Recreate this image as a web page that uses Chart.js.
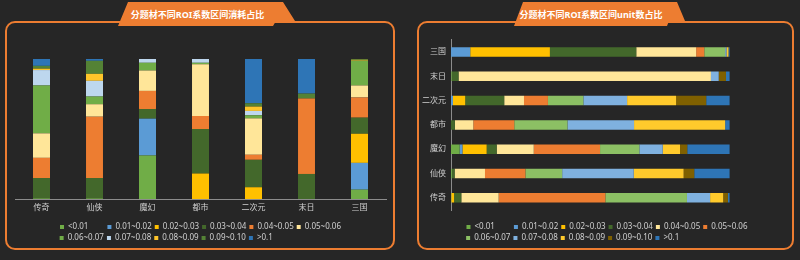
<!DOCTYPE html>
<html>
<head>
<meta charset="utf-8">
<script src="https://cdn.jsdelivr.net/npm/chart.js@4.4.0/dist/chart.umd.min.js"></script>
<style>
body { margin: 0; width: 800px; height: 260px; background: #262626; position: relative; overflow: hidden;
       font-family: 'Noto Sans', 'Noto Sans CJK SC', sans-serif; }
.frame { position: absolute; box-sizing: border-box; border: 2px solid #ed7d31; border-radius: 10px; }
.tab { position: absolute; background: #ed7d31; }
.title { position: absolute; top: 8px; height: 13px; line-height: 13px; text-align: center; color: #fff;
         font-size: 9px; font-weight: bold; }
canvas { position: absolute; }
</style>
</head>
<body>
<div class="frame" style="left:5px;top:21px;width:390px;height:229px"></div>
<div class="frame" style="left:417px;top:21px;width:377px;height:229px"></div>
<div class="tab" style="left:117px;top:2px;width:180px;height:25px;clip-path:polygon(11px 0,166px 0,178px 19px,159px 19px,156px 24px,1px 24px)"></div>
<div class="tab" style="left:513px;top:2px;width:174px;height:25px;clip-path:polygon(10px 0,164px 0,172px 19px,156px 19px,154px 24px,1px 24px)"></div>
<div class="title" style="left:0;width:395px">分题材不同ROI系数区间消耗占比</div>
<div class="title" style="left:400px;width:382px">分题材不同ROI系数区间unit数占比</div>
<canvas id="spendChart" width="400" height="222" style="left:0;top:30px"></canvas>
<canvas id="unitChart" width="380" height="222" style="left:418px;top:30px"></canvas>
<script>
// ROI ranges (legend), same for both charts
const roiRanges = ['<0.01', '0.01~0.02', '0.02~0.03', '0.03~0.04', '0.04~0.05', '0.05~0.06',
                   '0.06~0.07', '0.07~0.08', '0.08~0.09', '0.09~0.10', '>0.1'];

// left chart: spend share (%) per genre, one value per ROI range
const spendGenres = ['传奇', '仙侠', '魔幻', '都市', '二次元', '末日', '三国'];
const spendChuanqi = [0.5, 0, 0, 14.5, 14.4, 17.5, 34.2, 11.0, 1.0, 2.0, 4.9];
const spendXianxia = [0.5, 0, 0, 14.5, 43.8, 8.9, 5.5, 11.2, 5.0, 9.3, 1.3];
const spendMohuan = [31.1, 26.3, 0, 6.9, 12.9, 14.6, 5.5, 2.7, 0, 0, 0];
const spendDushi = [0, 0, 18.2, 31.8, 9.3, 37.0, 1.0, 2.7, 0, 0, 0];
const spendErciyuan = [0, 0, 8.4, 19.6, 3.6, 26.0, 2.2, 3.1, 3.1, 2.4, 31.6];
const spendMori = [0, 0, 0, 17.9, 53.8, 0, 0, 0, 0, 3.6, 24.7];
const spendSanguo = [6.7, 19.1, 20.8, 11.5, 14.4, 8.6, 17.7, 0, 0.6, 0.6, 0];
const spendColors = ['#70ad47', '#5b9bd5', '#ffc000', '#43682b', '#ed7d31', '#ffe699',
                     '#70ad47', '#bdd7ee', '#ffc52a', '#548235', '#2e75b6'];

// right chart: unit share (%) per genre, top to bottom
const unitGenres = ['三国', '末日', '二次元', '都市', '魔幻', '仙侠', '传奇'];
const unitSanguo = [0, 6.9, 28.6, 31.0, 21.5, 2.9, 7.5, 0.5, 0.7, 0, 0.4];
const unitMori = [0.2, 0, 0, 2.5, 90.6, 0, 0, 2.8, 0, 2.6, 1.3];
const unitErciyuan = [0, 0.7, 4.4, 14.0, 7.1, 8.6, 12.7, 15.7, 17.6, 10.8, 8.4];
const unitDushi = [0, 0, 0, 1.4, 6.6, 14.7, 19.1, 23.9, 32.7, 0, 1.6];
const unitMohuan = [3.1, 1.0, 8.7, 3.6, 13.3, 23.8, 14.1, 8.4, 6.2, 2.6, 15.2];
const unitXianxia = [0.3, 0, 0, 1.0, 10.9, 14.5, 13.2, 25.7, 17.9, 3.8, 12.7];
const unitChuanqi = [0.1, 0, 1.0, 2.6, 13.4, 38.3, 29.3, 8.3, 4.7, 1.7, 0.6];
const unitColors = ['#70ad47', '#5b9bd5', '#ffc000', '#43682b', '#ffe699', '#ed7d31',
                    '#8cc064', '#7fb1df', '#ffca2c', '#7f6000', '#2e75b6'];

const FONT = "'Noto Sans', 'Noto Sans CJK SC', sans-serif";
Chart.defaults.font.family = FONT;

// one dataset per ROI range, values taken column-wise from the genre arrays
function buildSets(rows, colors) {
    return roiRanges.map((label, i) => ({
        label: label,
        data: rows.map(r => r[i]),
        backgroundColor: colors[i],
        borderWidth: 0
    }));
}

// pad legend texts to one width so the two rows line up in columns
function padLegend(chart) {
    const items = Chart.defaults.plugins.legend.labels.generateLabels(chart);
    const ctx = chart.ctx;
    ctx.save();
    ctx.font = '8px ' + FONT;
    const target = Math.max(...items.map(it => ctx.measureText(it.text).width));
    const pad = t => {
        let n = 0;
        while (ctx.measureText(t).width < target - 0.3 && n++ < 300) t += '\u200a';
        return t;
    };
    items.forEach(it => { it.text = pad(it.text); });
    // empty slot so row 2 is as wide as row 1
    items.push({text: pad(''), fillStyle: 'rgba(0,0,0,0)', strokeStyle: 'rgba(0,0,0,0)', lineWidth: 0, hidden: false});
    ctx.restore();
    return items;
}

// six legend entries per row
const legendRows = {
    id: 'legendRows',
    beforeLayout(chart) {
        const lg = chart.legend;
        if (!lg || lg._rowsPatched) return;
        const fit = lg.fit;
        lg.fit = function() {
            const full = this.maxWidth;
            this.maxWidth = 300;
            fit.call(this);
            this.maxWidth = full;
            this.width = full;
        };
        lg._rowsPatched = true;
    }
};

function legendOpts() {
    return {
        position: 'bottom',
        labels: {color: '#d0d0d0', font: {size: 8}, boxWidth: 4, boxHeight: 4, padding: 3, generateLabels: padLegend}
    };
}

new Chart(document.getElementById('spendChart'), {
    type: 'bar',
    data: {
        labels: spendGenres,
        datasets: buildSets([spendChuanqi, spendXianxia, spendMohuan, spendDushi, spendErciyuan, spendMori, spendSanguo], spendColors)
    },
    options: {
        responsive: false,
        animation: false,
        layout: {padding: {left: 15, right: 14, top: 29, bottom: 0}},
        datasets: {bar: {categoryPercentage: 1, barPercentage: 0.32}},
        plugins: {legend: legendOpts(), tooltip: {enabled: false}},
        scales: {
            x: {
                stacked: true,
                grid: {display: false, drawTicks: false},
                border: {display: true, color: '#8c8c8c'},
                ticks: {color: '#d0d0d0', font: {size: 8}, padding: 4},
                afterFit: s => { s.height = 21; }
            },
            y: {stacked: true, display: false, min: 0, max: 100}
        }
    },
    plugins: [legendRows]
});

new Chart(document.getElementById('unitChart'), {
    type: 'bar',
    data: {
        labels: unitGenres,
        datasets: buildSets([unitSanguo, unitMori, unitErciyuan, unitDushi, unitMohuan, unitXianxia, unitChuanqi], unitColors)
    },
    options: {
        indexAxis: 'y',
        responsive: false,
        animation: false,
        layout: {padding: {left: 4, right: 6, top: 2, bottom: 0}},
        datasets: {bar: {categoryPercentage: 1, barPercentage: 0.39}},
        plugins: {legend: legendOpts(), tooltip: {enabled: false}},
        scales: {
            x: {
                stacked: true, min: 0, max: 122.4,
                grid: {display: false, drawTicks: false},
                border: {display: false},
                ticks: {display: false},
                afterFit: s => { s.height = 10; }
            },
            y: {
                stacked: true,
                grid: {display: false, drawTicks: false},
                border: {display: true, color: '#8c8c8c'},
                ticks: {color: '#d0d0d0', font: {size: 8}, padding: 5},
                afterFit: s => { s.width = 29; }
            }
        }
    },
    plugins: [legendRows]
});
</script>
</body>
</html>
